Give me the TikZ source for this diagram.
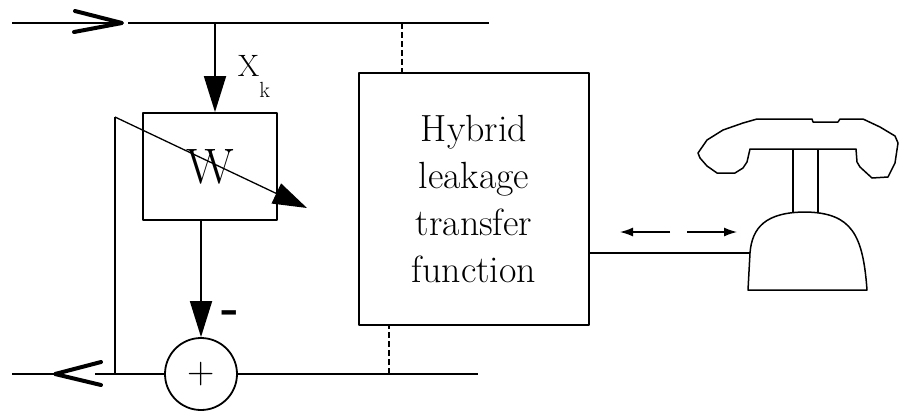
\documentclass[tikz,border=0pt]{standalone}
\usetikzlibrary{arrows.meta}
\begin{document}
\begin{tikzpicture}[x=1bp,y=-1bp, line width=1.8bp, line join=round,
  box/.style={draw, line width=1.8bp, inner sep=0pt},
  bigtip/.style={-{Triangle[length=36bp,width=22bp]}},
  smalltip/.style={line width=1.3bp, -{Latex[length=13bp,width=9bp]}},
  chev/.style={line width=4bp, line cap=round},
  dashwire/.style={line width=1.8bp, dash pattern=on 6bp off 3bp},
  phone/.style={line width=1.5bp}
]
\useasboundingbox (0,0) rectangle (899,410);

% nodes
\node[box, minimum width=134bp, minimum height=107bp] (W) at (210,166.5)
  {\fontsize{50}{50}\selectfont W};
\node[box, minimum width=230bp, minimum height=252bp, align=center,
  font=\fontsize{38}{47}\selectfont] (H) at (474,199)
  {Hybrid\\leakage\\transfer\\function};
\node[draw, circle, line width=1.8bp, minimum size=72bp, inner sep=0pt] (S) at (201,374)
  {\fontsize{38}{38}\selectfont +};
\node[anchor=north west, inner sep=0pt, font=\fontsize{31}{31}\selectfont] (xk) at (237,55)
  {X\raisebox{-20bp}{\fontsize{22}{22}\selectfont k}};
\node[inner sep=0pt, font=\fontsize{48}{48}\selectfont\bfseries] (minus) at (230,317) {-};

% coordinates
\coordinate (inL) at (12,23);
\coordinate (tipIn) at (122,23);
\coordinate (gapT) at (128,23);
\coordinate (topR) at (489,23);
\coordinate (tap) at (215,23);
\coordinate (outL) at (12,374);
\coordinate (tipOut) at (55,374);
\coordinate (gapB) at (95,374);
\coordinate (botR) at (478,374);
\coordinate (fb) at (115,374);
\coordinate (fbtop) at (115,117);
\coordinate (adapt) at (307,208);
\coordinate (d1) at (402,23);
\coordinate (d2) at (389,374);
\coordinate (ph) at (750,253);
\coordinate (a1s) at (670,232);
\coordinate (a1e) at (620,232);
\coordinate (a2s) at (687,232);
\coordinate (a2e) at (737,232);

% top line with input chevron
\draw (inL) -- (tipIn);
\draw[chev] (75,11) -- (tipIn) -- (74,32);
\draw (gapT) -- (topR);
\draw[bigtip] (tap) -- (tap |- W.north);

% bottom line with output chevron
\draw (tipOut) -- (outL);
\draw[chev] (101,362) -- (tipOut) -- (101,385);
\draw (gapB) -- (S.west);
\draw (S.east) -- (botR);

% W to sum
\draw[bigtip] (S.north |- W.south) -- (S.north);

% adaptation feedback
\draw (fb) -- (fbtop);
\draw[line width=1.3bp, -{Triangle[length=34bp,width=22bp]}] (fbtop) -- (adapt);

% dashed couplings
\draw[dashwire] (d1) -- (d1 |- H.north);
\draw[dashwire] (d2) -- (d2 |- H.south);

% hybrid to phone
\draw (H.east |- ph) -- (ph);
\draw[smalltip] (a1s) -- (a1e);
\draw[smalltip] (a2s) -- (a2e);

% telephone
\draw[phone] (ph) -- (748,290) -- (867,290)
  .. controls (863,235) and (852,213) .. (806,212)
  .. controls (765,212) and (752,228) .. (ph);
\draw[phone] (793,149) -- (793,213);
\draw[phone] (818,149) -- (818,213);
\draw[phone] (698,153) -- (707,140) -- (723,130) -- (743,123) -- (757,119)
  -- (812,119) -- (813,122) -- (838,122) -- (840,119) -- (863,119)
  -- (880,127) -- (895,136) -- (898,143) -- (895,163) -- (888,177)
  -- (872,178) -- (860,167) -- (857,162) -- (856,149) -- (750,149)
  -- (747,162) -- (743,168) -- (735,173) -- (717,173) -- (707,166)
  -- (700,158) -- cycle;
\end{tikzpicture}
\end{document}
